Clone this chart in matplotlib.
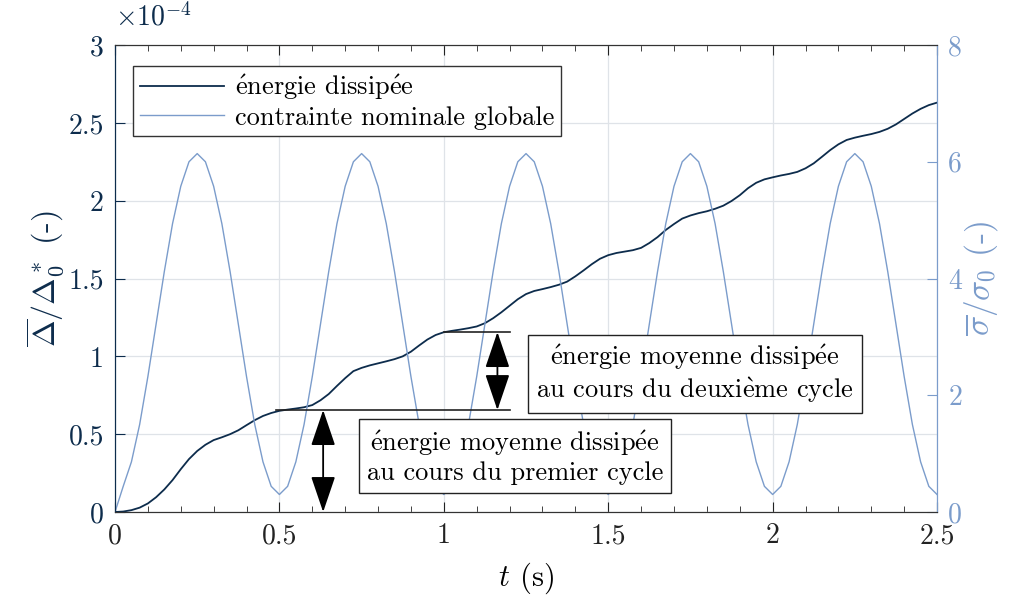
import matplotlib
matplotlib.use("Agg")
import matplotlib.pyplot as plt
import numpy as np
from matplotlib.ticker import MultipleLocator, FuncFormatter

# energie dissipee (x 1e-4), lue tous les 0.025 s
t_energy = np.linspace(0, 2.5, 101)
energy = [0.000, 0.003, 0.012, 0.028, 0.055, 0.095, 0.145, 0.205, 0.275, 0.340,
          0.392, 0.432, 0.462, 0.480, 0.500, 0.525, 0.558, 0.590, 0.617, 0.636,
          0.650, 0.658, 0.665, 0.673, 0.687, 0.718, 0.758, 0.810, 0.860, 0.905,
          0.926, 0.942, 0.955, 0.968, 0.982, 1.000, 1.030, 1.070, 1.108, 1.137,
          1.155, 1.164, 1.172, 1.181, 1.192, 1.213, 1.245, 1.283, 1.325, 1.367,
          1.400, 1.420, 1.432, 1.445, 1.460, 1.480, 1.514, 1.552, 1.592, 1.627,
          1.650, 1.664, 1.673, 1.682, 1.697, 1.728, 1.766, 1.812, 1.850, 1.885,
          1.905, 1.920, 1.932, 1.948, 1.968, 1.998, 2.035, 2.080, 2.115, 2.137,
          2.150, 2.162, 2.172, 2.185, 2.208, 2.240, 2.282, 2.325, 2.362, 2.390,
          2.405, 2.417, 2.428, 2.442, 2.462, 2.490, 2.525, 2.560, 2.590, 2.614,
          2.630]

# contrainte nominale globale, lue tous les 0.025 s
t_stress = np.linspace(0, 2.5, 101)
stress = [0.00,
          0.44, 0.86, 1.50, 2.32, 3.22, 4.12, 4.94, 5.58, 6.00, 6.14,
          6.00, 5.58, 4.94, 4.12, 3.22, 2.32, 1.50, 0.86, 0.44, 0.30,
          0.44, 0.86, 1.50, 2.32, 3.22, 4.12, 4.94, 5.58, 6.00, 6.14,
          6.00, 5.58, 4.94, 4.12, 3.22, 2.32, 1.50, 0.86, 0.44, 0.30,
          0.44, 0.86, 1.50, 2.32, 3.22, 4.12, 4.94, 5.58, 6.00, 6.14,
          6.00, 5.58, 4.94, 4.12, 3.22, 2.32, 1.50, 0.86, 0.44, 0.30,
          0.44, 0.86, 1.50, 2.32, 3.22, 4.12, 4.94, 5.58, 6.00, 6.14,
          6.00, 5.58, 4.94, 4.12, 3.22, 2.32, 1.50, 0.86, 0.44, 0.30,
          0.44, 0.86, 1.50, 2.32, 3.22, 4.12, 4.94, 5.58, 6.00, 6.14,
          6.00, 5.58, 4.94, 4.12, 3.22, 2.32, 1.50, 0.86, 0.44, 0.30]

# niveaux d'energie en fin de cycle
e_cycle1 = 0.655
e_cycle2 = 1.156

navy = '#0d2c4c'
light = '#7b9ccb'

# accents via mathtext (cmr10 n'a pas de glyphes accentues)
E = r'$\mathrm{\acute{e}}$'
EG = r'$\mathrm{\grave{e}}$'
lab_energy = E + 'nergie dissip' + E + 'e'
lab_stress = 'contrainte nominale globale'
txt_cycle1 = E + 'nergie moyenne dissip' + E + 'e\nau cours du premier cycle'
txt_cycle2 = E + 'nergie moyenne dissip' + E + 'e\nau cours du deuxi' + EG + 'me cycle'

plt.rcParams['font.family'] = ['cmr10', 'DejaVu Serif']
plt.rcParams['mathtext.fontset'] = 'cm'
plt.rcParams['axes.unicode_minus'] = False
plt.rcParams['axes.formatter.use_mathtext'] = True

fig = plt.figure(figsize=(10.15, 6.06), dpi=100)
ax = fig.add_axes([0.1133, 0.1551, 0.8099, 0.7706])
ax2 = ax.twinx()

l1, = ax.plot(t_energy, energy, color=navy, lw=1.3, label=lab_energy)
l2, = ax2.plot(t_stress, stress, color=light, lw=1.0, label=lab_stress)

ax.set_xlim(0, 2.5)
ax.set_ylim(0, 3)
ax2.set_ylim(0, 8)

ax.xaxis.set_major_locator(MultipleLocator(0.5))
ax.xaxis.set_minor_locator(MultipleLocator(0.1))
ax.yaxis.set_major_locator(MultipleLocator(0.5))
ax2.yaxis.set_major_locator(MultipleLocator(2))
fmt = FuncFormatter(lambda v, p: '%g' % v)
ax.xaxis.set_major_formatter(fmt)
ax.yaxis.set_major_formatter(fmt)
ax2.yaxis.set_major_formatter(fmt)

ax.grid(True, which='major', color='#dfe3e8', lw=0.9)
ax.set_axisbelow(True)

ax.tick_params(axis='x', which='both', direction='in', top=True, labelsize=20, colors='#222222', pad=8)
ax.tick_params(axis='x', which='major', length=7)
ax.tick_params(axis='x', which='minor', length=4)
ax.tick_params(axis='y', direction='in', length=7, labelsize=20, colors=navy, pad=8)
ax2.tick_params(axis='y', direction='in', length=7, labelsize=20, colors=light, pad=8)

for a in (ax, ax2):
    a.spines['top'].set_color('#333333')
    a.spines['bottom'].set_color('#333333')
    a.spines['left'].set_color(navy)
    a.spines['right'].set_color(light)

ax.set_xlabel(r'$t$ (s)', fontsize=22, labelpad=8)
ax.set_ylabel(r'$\overline{\Delta}/\Delta_0^*$ (-)', fontsize=23, color=navy, labelpad=2)
ax2.set_ylabel(r'$\overline{\sigma}/\sigma_0$ (-)', fontsize=24, color=light, labelpad=0)

ax.text(0.0, 1.03, r'$\times10^{-4}$', transform=ax.transAxes, fontsize=20,
        color=navy, ha='left', va='bottom')

leg = ax2.legend(handles=[l1, l2], loc='upper left', bbox_to_anchor=(0.022, 0.955),
                 borderaxespad=0, fancybox=False, framealpha=1, edgecolor='#333333',
                 fontsize=19, handlelength=3.2, borderpad=0.25, labelspacing=0.15,
                 handletextpad=0.4)
leg.get_frame().set_linewidth(1.0)

# annotations (dans les coordonnees de l'axe gauche, dessinees au-dessus)
tr = ax.transData
ax2.plot([0.49, 1.2], [e_cycle1, e_cycle1], color='#222222', lw=1.2, transform=tr)
ax2.plot([1.0, 1.2], [e_cycle2, e_cycle2], color='#222222', lw=1.2, transform=tr)

arrow = dict(arrowstyle='<|-|>,head_length=0.5,head_width=0.17', color='black',
             lw=1.3, mutation_scale=45, shrinkA=0, shrinkB=0)
ax2.annotate('', xy=(0.633, 0), xytext=(0.633, e_cycle1), xycoords=tr, textcoords=tr,
             arrowprops=arrow)
ax2.annotate('', xy=(1.163, e_cycle1), xytext=(1.163, e_cycle2), xycoords=tr, textcoords=tr,
             arrowprops=arrow)

box = dict(boxstyle='square,pad=0.3', fc='white', ec='#222222', lw=1.0)
ax2.text(1.217, 0.353, txt_cycle1, transform=tr,
         ha='center', va='center', fontsize=19, bbox=box, linespacing=1.15)
ax2.text(1.764, 0.886, txt_cycle2, transform=tr,
         ha='center', va='center', fontsize=19, bbox=box, linespacing=1.15)

fig.savefig('out.png', dpi=100)
